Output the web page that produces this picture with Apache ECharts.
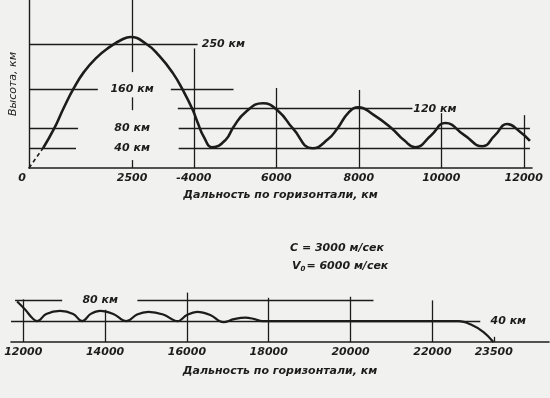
<!DOCTYPE html>
<html lang="ru">
<head>
<meta charset="UTF-8">
<title>Траектория</title>
<script src="https://cdn.jsdelivr.net/npm/echarts@6/dist/echarts.min.js"></script>
<style>
html,body{margin:0;padding:0;background:#f1f1ef;}
#app{width:550px;height:398px;}
</style>
</head>
<body>
<div id="app"></div>
<script>
// верхний участок траектории, 0 - 12000 км (дальность, высота в км)
var topDashX = [0, 340];
var topDashH = [0, 40];
var topX = [340, 605, 850, 1090, 1330, 1620, 1940, 2280, 2460, 2830, 3150, 3490, 3750, 3970, 4090, 4240, 4450, 4770, 4960, 5250, 5670, 6050, 6400, 6880, 7250, 7480, 7750, 7990, 8350, 8800, 9100, 9370, 9750, 10100, 10550, 11000, 11300, 11600, 11900, 12150];
var topH = [40, 79, 123, 162, 194, 222, 244, 261, 265, 252, 228, 192, 155, 118, 92, 63, 42, 57, 83, 113, 131, 115, 80, 40, 58, 80, 112, 123, 108, 80, 56, 42, 66, 91, 67, 44, 66, 89, 74, 55];

// нижний участок, 12000 - 23500 км
var botX = [11850, 12050, 12220, 12340, 12560, 12900, 13220, 13440, 13650, 13880, 14200, 14520, 14780, 15060, 15420, 15770, 16000, 16250, 16570, 16890, 17150, 17430, 17650, 17840, 22640, 22930, 23250, 23490];
var botH = [78, 62, 46, 40, 54, 60, 54, 40, 54, 60, 54, 40, 53, 58, 53, 40, 52, 58, 52, 38, 44, 47, 44, 40, 40, 34, 19, 0];

// подписи осей
var topTicks = [0, 2500, 4000, 6000, 8000, 10000, 12000];
var topTickLabels = ['0', '2500', '-4000', '6000', '8000', '10000', '12000'];
var botTicks = [12000, 14000, 16000, 18000, 20000, 22000, 23500];
var botTickLabels = ['12000', '14000', '16000', '18000', '20000', '22000', '23500'];

// горизонтальные уровни: [высота, от, до]
var topLevels = [[250, 0, 4090], [160, 0, 1670], [160, 3440, 4960], [120, 3610, 9300],
  [80, 0, 1190], [80, 3630, 12150], [40, 0, 1140], [40, 3630, 12150]];
var botLevels = [[80, 11800, 12950], [80, 14790, 20560], [40, 11700, 23170]];

// вертикальные линии: [дальность, от высоты, до высоты]
var topVert = [[2500, 340, 194], [2500, 143, 117], [2500, 16, 0], [4000, 242, 0],
  [6000, 162, 0], [8000, 158, 0], [10000, 111, 0], [12000, 107, 0]];
var botVert = [[12000, 82, 0], [14000, 62, 0], [16000, 95, 0], [18000, 85, 0],
  [20000, 87, 0], [22000, 80, 0], [23500, 10, 0]];

// надписи уровней: [дальность, высота, текст, выравнивание]
var topNotes = [[4190, 250, '250 км', 'left'], [2500, 160, '160 км', 'center'],
  [2500, 80, '80 км', 'center'], [2500, 40, '40 км', 'center'], [9320, 120, '120 км', 'left']];
var botNotes = [[13880, 80, '80 км', 'center'], [23420, 40, '40 км', 'left']];

var FONT = 'DejaVu Sans';
var INK = '#1c1c1c';

function zip(a, b) {
  return a.map(function (v, i) { return [v, b[i]]; });
}
function hSegs(list) {
  return list.map(function (s) { return [{coord: [s[1], s[0]]}, {coord: [s[2], s[0]]}]; });
}
function vSegs(list) {
  return list.map(function (s) { return [{coord: [s[0], s[1]]}, {coord: [s[0], s[2]]}]; });
}
function notes(list) {
  return list.map(function (n) {
    return {value: [n[0], n[1]], label: {formatter: n[2], align: n[3]}};
  });
}
function labelFmt(ticks, names) {
  return function (v) {
    var i = ticks.indexOf(v);
    if (i < 0) return '';
    return v === 0 ? '{z|' + names[i] + '}' : names[i];
  };
}

var txt = {fontFamily: FONT, fontStyle: 'italic', fontWeight: 'bold', fontSize: 11, color: INK};
var thin = {color: INK, width: 1.3, type: 'solid'};
var noteLabel = Object.assign({show: true, position: 'inside', verticalAlign: 'middle',
  textBorderWidth: 0}, txt);

var myChart = echarts.init(document.getElementById('app'));
var option = {
  backgroundColor: '#f1f1ef',
  animation: false,
  grid: [
    {left: 28, top: 0, width: 504, height: 168},
    {left: 11, top: 290, width: 538, height: 52}
  ],
  xAxis: [
    {
      gridIndex: 0, type: 'value', min: 0, max: 12200,
      name: 'Дальность по горизонтали, км', nameLocation: 'middle', nameGap: 22,
      nameTextStyle: txt,
      axisLine: {onZero: false, lineStyle: {color: INK, width: 1.6}},
      axisTick: {show: false}, splitLine: {show: false},
      axisLabel: Object.assign({customValues: topTicks, margin: 5,
        formatter: labelFmt(topTicks, topTickLabels),
        rich: {z: Object.assign({padding: [0, 14, 0, 0]}, txt)}}, txt)
    },
    {
      gridIndex: 1, type: 'value', min: 11700, max: 24850,
      name: 'Дальность по горизонтали, км', nameLocation: 'middle', nameGap: 24,
      nameTextStyle: txt,
      axisLine: {onZero: false, lineStyle: {color: INK, width: 1.6}},
      axisTick: {show: false}, splitLine: {show: false},
      axisLabel: Object.assign({customValues: botTicks, margin: 5,
        formatter: labelFmt(botTicks, botTickLabels)}, txt)
    }
  ],
  yAxis: [
    {
      gridIndex: 0, type: 'value', min: 0, max: 340,
      name: 'Высота, км', nameLocation: 'middle', nameGap: 10,
      nameTextStyle: {fontFamily: FONT, fontStyle: 'italic', fontSize: 11, color: INK},
      axisLine: {show: true, lineStyle: {color: INK, width: 1.4}},
      axisTick: {show: false}, axisLabel: {show: false}, splitLine: {show: false}
    },
    {
      gridIndex: 1, type: 'value', min: 0, max: 100, show: false
    }
  ],
  graphic: [
    {type: 'text', left: 290, top: 243, style: {text: 'C = 3000 м/сек', font: 'italic bold 11px "DejaVu Sans"', fill: INK}},
    {type: 'text', left: 292, top: 261, style: {text: '{v|V}{s|0}= 6000 м/сек', font: 'italic bold 11px "DejaVu Sans"', fill: INK,
      rich: {v: {font: 'italic bold 11px "DejaVu Sans"'}, s: {font: 'italic bold 7px "DejaVu Sans"', padding: [6, 1, 0, 0]}}}}
  ],
  series: [
    {
      type: 'line', xAxisIndex: 0, yAxisIndex: 0, data: zip(topDashX, topDashH),
      symbol: 'none', lineStyle: {color: INK, width: 1.6, type: [4, 3]}
    },
    {
      type: 'line', xAxisIndex: 0, yAxisIndex: 0, data: zip(topX, topH),
      symbol: 'none', smooth: 0.5, lineStyle: {color: INK, width: 2.6},
      markLine: {silent: true, symbol: 'none', label: {show: false}, lineStyle: thin,
        data: hSegs(topLevels).concat(vSegs(topVert))}
    },
    {
      type: 'scatter', xAxisIndex: 0, yAxisIndex: 0, symbolSize: 0, data: notes(topNotes),
      itemStyle: {opacity: 1, color: INK}, label: noteLabel
    },
    {
      type: 'line', xAxisIndex: 1, yAxisIndex: 1, data: zip(botX, botH),
      symbol: 'none', smooth: 0.4, lineStyle: {color: INK, width: 2.2},
      markLine: {silent: true, symbol: 'none', label: {show: false}, lineStyle: thin,
        data: hSegs(botLevels).concat(vSegs(botVert))}
    },
    {
      type: 'scatter', xAxisIndex: 1, yAxisIndex: 1, symbolSize: 0, data: notes(botNotes),
      itemStyle: {opacity: 1, color: INK}, label: noteLabel
    }
  ]
};
myChart.setOption(option);
</script>
</body>
</html>
